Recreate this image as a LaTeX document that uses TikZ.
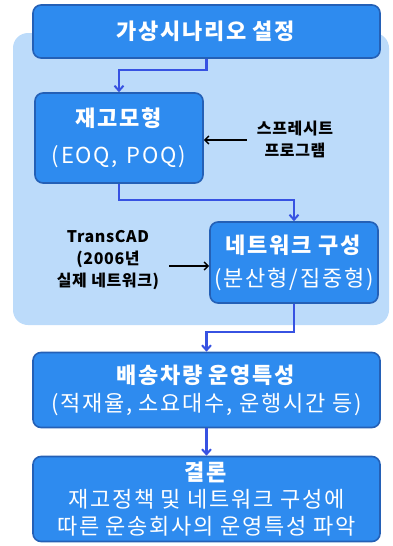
\documentclass[tikz,border=0pt]{standalone}
\usepackage{fontspec}
\setmainfont{Noto Sans CJK KR}
\usetikzlibrary{arrows.meta,calc}
\definecolor{boxfill}{RGB}{46,139,239}
\definecolor{boxline}{RGB}{36,96,182}
\definecolor{panel}{RGB}{188,219,250}
\definecolor{arrblue}{RGB}{55,82,226}
\newcommand{\bigtxt}{\fontsize{22}{28}\selectfont\addfontfeature{LetterSpace=8}}
\tikzset{
  x=1pt, y=-1pt,
  bluebox/.style={draw=boxline, line width=1.6pt, fill=boxfill, rounded corners=8pt,
    text=white, align=center, inner sep=0pt, font=\bigtxt},
  flow/.style={draw=arrblue, line width=2.4pt, -{Straight Barb[length=5pt,width=9pt,line width=2pt]}},
  side/.style={draw=black, line width=1.6pt, -{Straight Barb[length=4pt,width=8pt,line width=1.5pt]}},
  sidelabel/.style={align=center, inner sep=0pt, font=\fontsize{16}{22}\selectfont\bfseries\addfontfeature{LetterSpace=4}},
}
\begin{document}
\begin{tikzpicture}
\useasboundingbox (0,0) rectangle (393,546);
\fill[panel, rounded corners=15pt] (13,33) rectangle (389,325);
\node[bluebox, minimum width=347pt, minimum height=53pt] (top) at (206.5,31.5)
  {\textbf{가상시나리오\hspace{0.3em}설정}};
\node[bluebox, minimum width=168pt, minimum height=90pt] (b2) at (119,138)
  {\textbf{재고모형}\\[9pt](EOQ,\hspace{0.4em}POQ)};
\node[bluebox, minimum width=168pt, minimum height=81pt] (b3) at (294,262.5)
  {\textbf{네트워크\hspace{0.3em}구성}\\[5pt](분산형/집중형)};
\node[bluebox, minimum width=347pt, minimum height=75pt] (b4) at (206.5,390)
  {\textbf{배송차량\hspace{0.3em}운영특성}\\(적재율,\hspace{0.3em}소요대수,\hspace{0.3em}운행시간\hspace{0.3em}등)};
\node[bluebox, minimum width=347pt, minimum height=85pt, font=\fontsize{22}{27}\selectfont\addfontfeature{LetterSpace=8}] (b5) at (206.5,499)
  {\textbf{결론}\\재고정책\hspace{0.3em}및\hspace{0.3em}네트워크\hspace{0.3em}구성에\\따른\hspace{0.3em}운송회사의\hspace{0.3em}운영특성\hspace{0.3em}파악};
\node[sidelabel] (sp) at (295,139) {스프레시트\\프로그램};
\node[sidelabel] (tc) at (108,260) {TransCAD\\(2006년\\실제 네트워크)};
\coordinate (m1) at (0,70);
\coordinate (m2) at (0,200);
\coordinate (m3) at (0,332);
\draw[flow] (top.south) -- (top.south |- m1) -- (b2.north |- m1) -- (b2.north);
\draw[flow] (b2.south) -- (b2.south |- m2) -- (b3.north |- m2) -- (b3.north);
\draw[flow] (b3.south) -- (b3.south |- m3) -- (b4.north |- m3) -- (b4.north);
\draw[flow] (b4.south) -- (b5.north);
\draw[side] ([xshift=-10pt,yshift=-1pt]sp.west) -- ([yshift=-1pt]sp.west -| b2.east);
\draw[side] ([xshift=10pt,yshift=-6pt]tc.east) -- ([yshift=-6pt]tc.east -| b3.west);
\end{tikzpicture}
\end{document}
